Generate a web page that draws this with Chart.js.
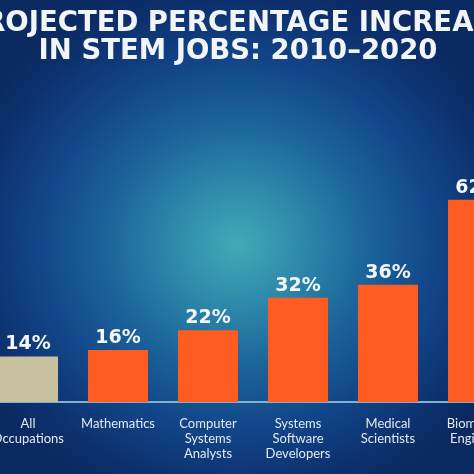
<!DOCTYPE html>
<html>
<head>
<meta charset="utf-8">
<script src="https://cdn.jsdelivr.net/npm/chart.js@4"></script>
<style>
  html, body { margin: 0; padding: 0; }
  body {
    width: 474px; height: 474px; overflow: hidden; position: relative;
    background: radial-gradient(ellipse 290px 270px at 237px 245px,
      #42aab6 0%, #2e8aab 22%, #1c649a 45%, #124689 68%, #0d3270 88%, #0b2a62 100%);
    background-color: #0b2a62;
  }
  #wrap { position: absolute; left: -60px; top: 0; width: 596px; height: 474px; }
</style>
</head>
<body>
<div id="wrap"><canvas id="stemChart"></canvas></div>
<script>
const titleLines = ['PROJECTED PERCENTAGE INCREASE', 'IN STEM JOBS: 2010–2020'];
const occupations = [
  ['All', 'Occupations'],
  ['Mathematics'],
  ['Computer', 'Systems', 'Analysts'],
  ['Systems', 'Software', 'Developers'],
  ['Medical', 'Scientists'],
  ['Biomedical', 'Engineers']
];
const increasePct = [14, 16, 22, 32, 36, 62];
const barColors = ['#c9c0a0', '#ff5c21', '#ff5c21', '#ff5c21', '#ff5c21', '#ff5c21'];

document.addEventListener('DOMContentLoaded', () => {
  const canvas = document.getElementById('stemChart');

  // draws the "NN%" labels above every bar
  const valueLabels = {
    id: 'valueLabels',
    afterDatasetsDraw(chart) {
      const ctx = chart.ctx;
      const meta = chart.getDatasetMeta(0);
      ctx.save();
      ctx.fillStyle = '#f4f6f8';
      ctx.font = 'bold 19px "DejaVu Sans"';
      ctx.textAlign = 'center';
      ctx.textBaseline = 'alphabetic';
      meta.data.forEach((bar, i) => {
        ctx.fillText(increasePct[i] + '%', bar.x, bar.y - 7);
      });
      ctx.restore();
    }
  };

  new Chart(canvas, {
    type: 'bar',
    data: {
      labels: occupations,
      datasets: [{
        data: increasePct,
        backgroundColor: barColors,
        borderWidth: 0,
        categoryPercentage: 1,
        barPercentage: 0.667
      }]
    },
    options: {
      responsive: false,
      maintainAspectRatio: false,
      animation: false,
      layout: { padding: { left: 13, right: 13, top: 0, bottom: -1 } },
      plugins: {
        legend: { display: false },
        tooltip: { enabled: false },
        title: {
          display: true,
          text: titleLines,
          color: '#f2f5f8',
          font: { family: 'DejaVu Sans', size: 27.5, weight: 'bold', lineHeight: 1.02 },
          padding: { top: 10, bottom: 26 }
        }
      },
      scales: {
        x: {
          grid: { display: false, drawTicks: false },
          border: { display: true, color: '#7fb2d2', width: 2 },
          ticks: {
            color: '#e3e9f0',
            font: { family: 'Lato', size: 13, lineHeight: 1.15 },
            padding: 14,
            maxRotation: 0,
            autoSkip: false
          }
        },
        y: {
          display: true,
          min: 0,
          max: 95,
          grid: { display: false, drawTicks: false },
          border: { display: false },
          ticks: { display: false },
          // invisible axis that only reserves room on the left
          afterFit(scale) { scale.width = 30; }
        }
      }
    },
    plugins: [valueLabels]
  });
});
</script>
<script>
  // size the canvas to the wrapper before Chart.js reads it
  const c = document.getElementById('stemChart');
  c.width = 596; c.height = 474;
  c.style.width = '596px'; c.style.height = '474px';
</script>
</body>
</html>
